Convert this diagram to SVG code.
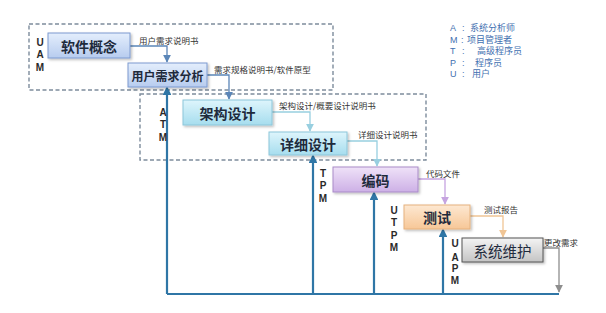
<svg xmlns="http://www.w3.org/2000/svg" width="606" height="313" viewBox="0 0 606 313">
  <style>
    .phase { fill: none; stroke: #7d8c9c; stroke-width: 1.4; stroke-dasharray: 4 2.5; }
    .node rect { stroke-width: 1; }
    .node text { font-family: "Noto Sans CJK SC", "Liberation Sans", sans-serif; font-size: 14px; font-weight: bold; fill: #1e2a3c; text-anchor: middle; dominant-baseline: central; }
    .role { font-family: "Liberation Sans", "DejaVu Sans", sans-serif; font-size: 10px; font-weight: bold; fill: #2a2a2a; text-anchor: middle; }
    .doc { font-family: "Noto Sans CJK SC", "Liberation Sans", sans-serif; font-size: 8.5px; fill: #333; dominant-baseline: central; }
    .legend { font-family: "Liberation Sans", "Noto Sans CJK SC", sans-serif; font-size: 9px; fill: #3f6fb0; }
    .legend .cjk { font-family: "Noto Sans CJK SC", sans-serif; }
    .flow { fill: none; stroke-width: 1.3; }
    .back { fill: none; stroke: #2f76a6; stroke-width: 2.2; }
  </style>
  <defs>
    <linearGradient id="gBlue" x1="0" y1="0" x2="0" y2="1">
      <stop offset="0" stop-color="#e4eefc"/><stop offset="1" stop-color="#b7ccef"/>
    </linearGradient>
    <linearGradient id="gCyan" x1="0" y1="0" x2="0" y2="1">
      <stop offset="0" stop-color="#def5fc"/><stop offset="1" stop-color="#a6ddee"/>
    </linearGradient>
    <linearGradient id="gPurple" x1="0" y1="0" x2="0" y2="1">
      <stop offset="0" stop-color="#efe2f8"/><stop offset="1" stop-color="#cdb0e6"/>
    </linearGradient>
    <linearGradient id="gOrange" x1="0" y1="0" x2="0" y2="1">
      <stop offset="0" stop-color="#fde8d2"/><stop offset="1" stop-color="#f7c797"/>
    </linearGradient>
    <linearGradient id="gGray" x1="0" y1="0" x2="0" y2="1">
      <stop offset="0" stop-color="#f4f4f4"/><stop offset="1" stop-color="#c4c4c4"/>
    </linearGradient>
    <filter id="shadow" x="-10%" y="-20%" width="130%" height="160%">
      <feDropShadow dx="1.5" dy="1.5" stdDeviation="1.2" flood-color="#000" flood-opacity="0.25"/>
    </filter>
    <marker id="aBlue" viewBox="0 0 10 10" refX="9" refY="5" markerWidth="6" markerHeight="6" orient="auto">
      <path d="M0,0 L10,5 L0,10 z" fill="#5b86b8"/>
    </marker>
    <marker id="aCyan" viewBox="0 0 10 10" refX="9" refY="5" markerWidth="6" markerHeight="6" orient="auto">
      <path d="M0,0 L10,5 L0,10 z" fill="#98cfe0"/>
    </marker>
    <marker id="aPurple" viewBox="0 0 10 10" refX="9" refY="5" markerWidth="6" markerHeight="6" orient="auto">
      <path d="M0,0 L10,5 L0,10 z" fill="#c6a4e0"/>
    </marker>
    <marker id="aOrange" viewBox="0 0 10 10" refX="9" refY="5" markerWidth="6" markerHeight="6" orient="auto">
      <path d="M0,0 L10,5 L0,10 z" fill="#f0c595"/>
    </marker>
    <marker id="aGray" viewBox="0 0 10 10" refX="9" refY="5" markerWidth="6" markerHeight="6" orient="auto">
      <path d="M0,0 L10,5 L0,10 z" fill="#8e8e8e"/>
    </marker>
    <marker id="aBack" viewBox="0 0 10 10" refX="8" refY="5" markerWidth="4" markerHeight="4" orient="auto">
      <path d="M0,0 L10,5 L0,10 z" fill="#2f76a6"/>
    </marker>
  </defs>

  <rect width="606" height="313" fill="#ffffff"/>

  <!-- dashed phase frames -->
  <rect class="phase" x="29" y="24" width="304" height="66"/>
  <rect class="phase" x="140" y="94" width="286" height="66"/>

  <g id="connectors">
    <!-- feedback loop back from maintenance -->
    <path class="back" d="M167,294 H559"/>
    <path class="back" d="M167,294 V88" marker-end="url(#aBack)"/>
    <path class="back" d="M313,294 V156" marker-end="url(#aBack)"/>
    <path class="back" d="M374,294 V193" marker-end="url(#aBack)"/>
    <path class="back" d="M443,294 V230" marker-end="url(#aBack)"/>

    <!-- forward flow between steps -->
    <path class="flow" stroke="#5b86b8" d="M130,46 H167 V62" marker-end="url(#aBlue)"/>
    <path class="flow" stroke="#5b86b8" d="M207,75 H229 V99" marker-end="url(#aBlue)"/>
    <path class="flow" stroke="#98cfe0" d="M272,112 H310 V131" marker-end="url(#aCyan)"/>
    <path class="flow" stroke="#98cfe0" d="M347,141 H377 V166" marker-end="url(#aCyan)"/>
    <path class="flow" stroke="#c6a4e0" d="M418,179 H445 V204" marker-end="url(#aPurple)"/>
    <path class="flow" stroke="#f0c595" d="M470,216 H503 V237" marker-end="url(#aOrange)"/>
    <path class="flow" stroke="#8e8e8e" d="M543,248 H559 V292" marker-end="url(#aGray)"/>
  </g>

  <!-- process steps -->
  <g id="concept" class="node">
    <rect x="48" y="33" width="82" height="25" fill="url(#gBlue)" stroke="#7c9ad0" filter="url(#shadow)"/>
    <text x="89" y="45.5">软件概念</text>
  </g>
  <g id="requirements" class="node">
    <rect x="128" y="63" width="79" height="24" fill="url(#gBlue)" stroke="#7c9ad0" filter="url(#shadow)"/>
    <text x="167.5" y="75" style="font-size:12px">用户需求分析</text>
  </g>
  <g id="architecture" class="node">
    <rect x="183" y="100" width="89" height="25" fill="url(#gCyan)" stroke="#8cc6da" filter="url(#shadow)"/>
    <text x="227.5" y="112.5">架构设计</text>
  </g>
  <g id="detail" class="node">
    <rect x="269" y="132" width="78" height="23" fill="url(#gCyan)" stroke="#8cc6da" filter="url(#shadow)"/>
    <text x="308" y="143.5">详细设计</text>
  </g>
  <g id="coding" class="node">
    <rect x="333" y="167" width="85" height="25" fill="url(#gPurple)" stroke="#a98bc8" filter="url(#shadow)"/>
    <text x="375.5" y="179.5">编码</text>
  </g>
  <g id="testing" class="node">
    <rect x="404" y="205" width="66" height="24" fill="url(#gOrange)" stroke="#e6b27e" filter="url(#shadow)"/>
    <text x="437" y="217">测试</text>
  </g>
  <g id="maintenance" class="node">
    <rect x="462" y="238" width="81" height="24" fill="url(#gGray)" stroke="#555" filter="url(#shadow)"/>
    <text x="502.5" y="250" style="font-weight:normal;font-size:14.5px">系统维护</text>
  </g>

  <!-- deliverables -->
  <g id="docs">
    <text class="doc" x="139" y="40">用户需求说明书</text>
    <text class="doc" x="214" y="69">需求规格说明书/软件原型</text>
    <text class="doc" x="279" y="105">架构设计/概要设计说明书</text>
    <text class="doc" x="358" y="134">详细设计说明书</text>
    <text class="doc" x="426" y="173">代码文件</text>
    <text class="doc" x="484" y="209">测试报告</text>
    <text class="doc" x="544" y="242">更改需求</text>
  </g>

  <!-- roles involved in each step -->
  <g id="roles">
    <text class="role" x="40" y="46">U</text>
    <text class="role" x="40" y="58">A</text>
    <text class="role" x="40" y="71">M</text>

    <text class="role" x="163" y="116">A</text>
    <text class="role" x="163" y="128">T</text>
    <text class="role" x="163" y="141">M</text>

    <text class="role" x="323" y="177">T</text>
    <text class="role" x="323" y="189">P</text>
    <text class="role" x="323" y="202">M</text>

    <text class="role" x="394" y="214">U</text>
    <text class="role" x="394" y="226">T</text>
    <text class="role" x="394" y="239">P</text>
    <text class="role" x="394" y="251">M</text>

    <text class="role" x="455" y="247">U</text>
    <text class="role" x="455" y="261">A</text>
    <text class="role" x="455" y="272">P</text>
    <text class="role" x="455" y="284">M</text>
  </g>

  <!-- role legend -->
  <g id="legend" class="legend">
    <text x="450" y="31">A<tspan x="462">:</tspan><tspan class="cjk" x="470">系统分析师</tspan></text>
    <text x="450" y="42.5">M<tspan x="461">:</tspan><tspan class="cjk" x="467">项目管理者</tspan></text>
    <text x="450" y="54">T<tspan x="462">:</tspan><tspan class="cjk" x="477">高级程序员</tspan></text>
    <text x="450" y="65.5">P<tspan x="462">:</tspan><tspan class="cjk" x="475">程序员</tspan></text>
    <text x="450" y="77">U<tspan x="462">:</tspan><tspan class="cjk" x="472">用户</tspan></text>
  </g>
</svg>
